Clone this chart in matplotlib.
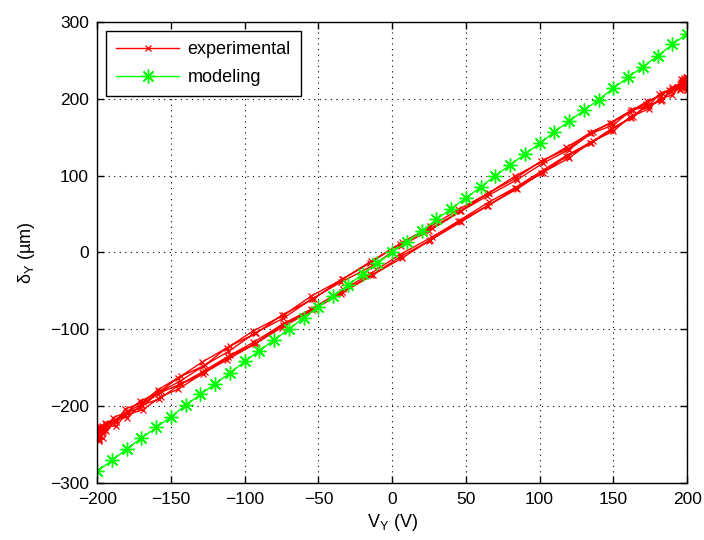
import matplotlib
matplotlib.use("Agg")
import matplotlib.pyplot as plt

plt.rcParams['font.family'] = ['Liberation Sans', 'DejaVu Sans']

# modeling curve (green, one point every 10 V)
v_model = [-200, -190, -180, -170, -160, -150, -140, -130, -120, -110, -100,
           -90, -80, -70, -60, -50, -40, -30, -20, -10, 0,
           10, 20, 30, 40, 50, 60, 70, 80, 90, 100,
           110, 120, 130, 140, 150, 160, 170, 180, 190, 200]
d_model = [-285, -271, -256, -242, -228, -214, -199, -185, -171, -157, -142,
           -128, -114, -100, -85, -71, -57, -43, -28, -14, 0,
           14, 28, 43, 57, 71, 85, 100, 114, 128, 142,
           157, 171, 185, 199, 214, 228, 242, 256, 271, 285]

# experimental hysteresis, three cycles: up branch, turn at +200, down branch, turn at -200
v_up1 = [-200, -198, -194, -188, -180, -170, -158, -144, -128, -111, -93, -74, -54, -34, -14, 6,
         26, 46, 65, 84, 102, 119, 135, 149, 162, 173, 182, 189, 195, 198, 200]
d_up1 = [-238, -229, -233, -218, -215, -199, -191, -172, -158, -136, -119, -94, -75, -51, -30, -5,
         16, 41, 61, 84, 104, 126, 142, 161, 175, 191, 197, 210, 213, 222, 218]
v_top1 = [199, 200, 198, 200, 199, 197, 195]
d_top1 = [225, 214, 221, 228, 217, 222, 211]
v_dn1 = [200, 199, 195, 190, 182, 173, 161, 149, 134, 119, 101, 84, 65, 46, 27, 5,
         -15, -34, -53, -75, -92, -112, -127, -145, -158, -171, -180, -189, -193, -198, -200]
d_dn1 = [225, 221, 219, 215, 204, 197, 183, 169, 156, 135, 119, 97, 77, 54, 32, 11,
         -14, -35, -60, -82, -105, -124, -147, -163, -182, -194, -208, -215, -225, -227, -232]
v_bot1 = [-199, -200, -198, -200, -197, -199, -195]
d_bot1 = [-228, -241, -234, -237, -226, -244, -231]

v_up2 = [-199, -197, -195, -187, -181, -169, -157, -145, -127, -112, -92, -75, -53, -35, -13, 7,
         25, 47, 64, 85, 101, 120, 134, 150, 161, 174, 181, 190, 194, 199, 200]
d_up2 = [-239, -233, -227, -226, -212, -205, -188, -178, -156, -140, -118, -98, -74, -54, -29, -7,
         15, 40, 60, 83, 103, 123, 143, 158, 176, 187, 200, 205, 216, 216, 224]
v_top2 = [200, 199, 200, 198, 200, 199, 196]
d_top2 = [219, 228, 212, 224, 220, 215, 226]
v_dn2 = [200, 198, 196, 189, 183, 172, 163, 148, 136, 118, 103, 83, 66, 45, 26, 7,
         -14, -33, -55, -73, -94, -110, -129, -143, -159, -169, -181, -187, -194, -197, -200]
d_dn2 = [227, 216, 222, 210, 208, 193, 186, 169, 157, 137, 120, 99, 78, 56, 34, 13,
         -11, -34, -57, -81, -102, -122, -143, -161, -179, -195, -204, -221, -223, -235, -230]
v_bot2 = [-200, -199, -200, -198, -200, -199, -196]
d_bot2 = [-232, -245, -236, -229, -240, -233, -242]

v_up3 = [-200, -196, -193, -189, -179, -171, -159, -143, -129, -110, -94, -73, -55, -33, -15, 5,
         27, 45, 66, 83, 103, 118, 136, 148, 163, 172, 183, 188, 196, 197, 199]
d_up3 = [-234, -233, -224, -222, -208, -203, -184, -171, -156, -134, -117, -92, -74, -48, -28, -3,
         20, 41, 66, 84, 108, 126, 145, 160, 177, 191, 198, 211, 215, 222, 217]
v_top3 = [198, 200, 199, 200, 197, 200, 194]
d_top3 = [227, 216, 221, 211, 225, 219, 214]
v_dn3 = [199, 197, 194, 190, 181, 174, 162, 150, 135, 120, 102, 85, 64, 47, 25, 6,
         -13, -35, -54, -74, -93, -111, -128, -144, -157, -170, -179, -188, -195, -198, -200]
d_dn3 = [220, 224, 215, 213, 206, 191, 185, 166, 155, 134, 116, 95, 73, 54, 28, 9,
         -17, -39, -60, -86, -105, -129, -148, -168, -181, -198, -207, -218, -222, -232, -236]
v_bot3 = [-198, -200, -199, -200, -197, -199, -194]
d_bot3 = [-239, -230, -243, -235, -227, -238, -225]

v_exp = (v_up1 + v_top1 + v_dn1 + v_bot1 + v_up2 + v_top2 + v_dn2 + v_bot2
         + v_up3 + v_top3 + v_dn3 + v_bot3)
d_exp = (d_up1 + d_top1 + d_dn1 + d_bot1 + d_up2 + d_top2 + d_dn2 + d_bot2
         + d_up3 + d_top3 + d_dn3 + d_bot3)

fig = plt.figure(figsize=(7.04, 5.40), dpi=100)
ax = fig.add_axes([0.138, 0.106, 0.838, 0.853])

ax.plot(v_exp, d_exp, color='#ff0000', marker='x', markersize=4.5, linewidth=1,
        markeredgewidth=0.9, label='experimental')
ax.plot(v_model, d_model, color='#00ff00', marker=(8, 2, 0), markersize=10, linewidth=1,
        markeredgewidth=1.0, label='modeling')

ax.set_xlim(-200, 200)
ax.set_ylim(-300, 300)
ax.set_xticks(range(-200, 201, 50))
ax.set_yticks(range(-300, 301, 100))
ax.grid(True, color='black', linestyle=(0, (1, 4)), linewidth=0.8)
ax.tick_params(direction='in', top=True, right=True, labelsize=12.5, length=5, width=1)
ax.tick_params(axis='x', pad=7)
ax.tick_params(axis='y', pad=6)
for s in ax.spines.values():
    s.set_linewidth(1.0)

ax.set_xlabel('V$_\\mathregular{Y}$ (V)', fontsize=13, labelpad=3)
ax.set_ylabel('\u03b4$_\\mathregular{Y}$ (\u00b5m)', fontsize=13, labelpad=9)

leg = ax.legend(loc='upper left', fontsize=13, fancybox=False, framealpha=1,
                edgecolor='black', borderaxespad=0.5, handlelength=3.5,
                labelspacing=0.6, borderpad=0.55, handletextpad=0.45)
leg.get_frame().set_linewidth(1.0)

fig.savefig('out.png', dpi=100)
